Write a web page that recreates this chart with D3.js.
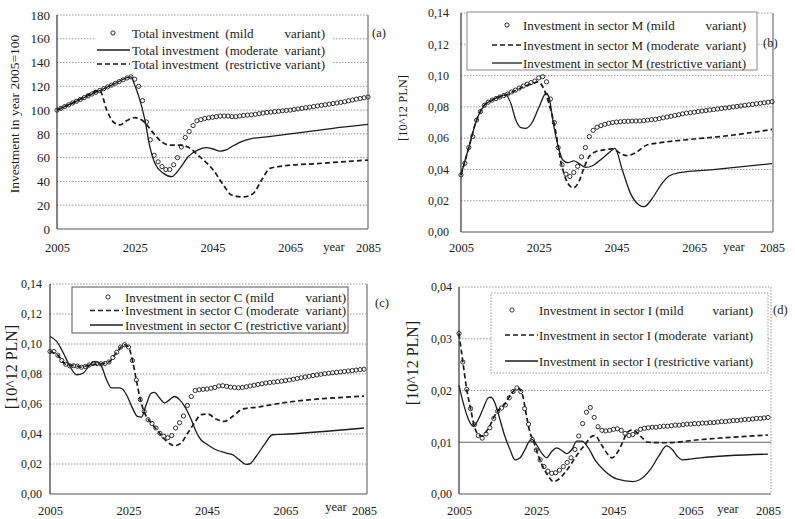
<!DOCTYPE html>
<html><head><meta charset="utf-8">
<script src="https://cdn.jsdelivr.net/npm/d3@7/dist/d3.min.js"></script>
<style>
body{margin:0;background:#fff;}
svg{display:block;font-family:"Liberation Serif","Times New Roman",serif;}
</style></head><body>
<svg id="chart" width="795" height="519"></svg>
<script>
// ---------------- DATA ----------------
const years = d3.range(2005, 2086);
const xTickYears = [2005, 2025, 2045, 2065, 2085];
const yTicksA = [0, 20, 40, 60, 80, 100, 120, 140, 160, 180];
const yTicksBC = [0, 0.02, 0.04, 0.06, 0.08, 0.10, 0.12, 0.14];
const yTicksD = [0, 0.01, 0.02, 0.03, 0.04];

// (a) Total investment, 2005=100
const mildA = [100,101.5,103,104.5,106,107.5,109,110.5,112,113.5,
  115,116.5,118,119.5,121,122.5,124,125.5,127,128,
  126,120,108,90,75,62,56.5,52.5,50,50,
  54,60,69,77,82,87,91,92,93,93.5,
  94,94.5,95,95,95,94.5,94.5,95,95.5,95.8,
  96,96.5,97,97.5,98,98.3,98.7,99,99.4,99.7,
  100,100.5,101,101.5,102,102.5,103,103.5,104,104.5,
  105,105.5,106,106.5,107,107.8,108.5,109.2,109.8,110.4,
  111];
const moderateA = [[2005,100],[2010,107.5],[2016,116.5],[2020,122.5],[2024,128],[2025,121],[2026,112],[2027.6,92],[2028.9,69],[2030.2,55],[2032.3,47],[2034.5,44],[2036.6,51],[2038.8,61],[2041.3,66.5],[2043.5,68.5],[2045,67.5],[2047,65.5],[2048.5,66.5],[2050.3,70],[2052.8,74],[2055,76],[2059,77.5],[2067.5,81],[2076,84.7],[2085,88]];
const restrictiveA = [[2005,100],[2010,107.5],[2016,116.5],[2017.8,100],[2019.5,90],[2021.2,87.5],[2022.9,91],[2025,93.6],[2026.8,91.7],[2028.5,86],[2030.2,79],[2031.9,73.4],[2034,70.6],[2036.6,70.6],[2038.8,68.7],[2041.3,62],[2043,57],[2045.2,49.6],[2047.8,37],[2049.9,28.6],[2052.9,27],[2055.5,30],[2057.6,41],[2059.8,51],[2063.2,53],[2071.8,55],[2085,58]];

// (b) sector M
const mildB = [.0365,.044,.054,.061,.0715,.077,.081,.083,.0843,.0853,
  .0863,.0872,.0882,.0895,.0907,.092,.0933,.0945,.0955,.0965,
  .0985,.0993,.096,.085,.07,.054,.043,.037,.0355,.038,
  .042,.048,.054,.061,.065,.067,.068,.0688,.0695,.07,
  .0703,.0705,.0707,.0708,.0709,.071,.071,.0712,.0715,.0718,
  .072,.0725,.073,.0735,.074,.0745,.075,.0755,.076,.0763,
  .0766,.077,.0773,.0776,.078,.0783,.0786,.079,.0793,.0796,
  .08,.0803,.0806,.081,.0813,.0816,.082,.0823,.0826,.083,
  .0833];
const moderateB = [[2005,.0365],[2007,.054],[2009,.0715],[2011,.081],[2013,.0843],[2016.5,.0876],[2020.8,.0925],[2023.5,.095],[2024.8,.096],[2026,.093],[2027.6,.0823],[2029.3,.065],[2030.6,.046],[2031.9,.0343],[2033.2,.029],[2034,.0283],[2035.3,.032],[2036.6,.0407],[2037.9,.048],[2039.6,.0513],[2041.8,.0525],[2044.2,.0532],[2045.5,.051],[2047.7,.0488],[2050.3,.0513],[2052.8,.0556],[2056,.057],[2062.3,.0588],[2075.1,.062],[2085,.0656]];
const restrictiveB = [[2005,.0365],[2007,.054],[2009,.0715],[2011,.081],[2013,.0843],[2016.5,.0876],[2017.8,.0823],[2019.1,.0716],[2020.4,.0667],[2021.7,.0663],[2023.4,.0705],[2025.1,.0801],[2026.9,.0887],[2027.7,.0855],[2028.6,.0716],[2029.9,.0556],[2031.2,.046],[2032.5,.0443],[2034,.0455],[2035.3,.0439],[2037,.0413],[2038.7,.0422],[2041.3,.047],[2043.9,.0524],[2044.6,.0535],[2046.5,.0396],[2048.6,.0247],[2050.8,.0173],[2052.1,.0162],[2054.2,.0215],[2056.4,.030],[2058.5,.0358],[2061.1,.0379],[2070.5,.040],[2085,.0437]];

// (c) sector C
const mildC = [.095,.095,.0925,.089,.0865,.0855,.0855,.0852,.0845,.085,
  .086,.087,.087,.0868,.087,.088,.091,.0945,.098,.0995,
  .098,.089,.076,.063,.055,.0495,.047,.044,.0405,.0385,
  .0375,.039,.044,.0475,.052,.059,.065,.069,.0695,.0698,
  .07,.0705,.071,.072,.0722,.0718,.0712,.071,.0708,.071,
  .0715,.072,.0725,.073,.0735,.074,.0743,.0746,.0749,.0752,
  .0756,.076,.0765,.077,.0775,.078,.0785,.079,.0794,.0798,
  .0802,.0805,.0808,.0811,.0814,.0817,.082,.0823,.0826,.0829,
  .0832];
const moderateC = [[2005,.095],[2007,.0925],[2009,.0865],[2012,.0852],[2013,.0845],[2015,.086],[2018,.0868],[2020,.088],[2022,.0945],[2024,.0995],[2025,.098],[2026,.089],[2027,.076],[2028,.063],[2029.2,.0535],[2030.8,.0473],[2032.5,.042],[2034,.037],[2035.5,.0335],[2036.7,.0322],[2038.4,.034],[2040.1,.0407],[2041.8,.0473],[2043.5,.0529],[2045.2,.0533],[2047.3,.05],[2049.4,.0484],[2051.5,.0517],[2054.1,.0567],[2058,.058],[2064.2,.0607],[2085,.0652]];
const restrictiveC = [[2005,.105],[2006.7,.1017],[2008.4,.094],[2010.1,.085],[2011.8,.0795],[2013.5,.0807],[2015.2,.0862],[2016.4,.0884],[2017.9,.0862],[2019.4,.0762],[2020.6,.0707],[2022.8,.0707],[2024.5,.0662],[2025.8,.0584],[2027.3,.0517],[2028.3,.0513],[2029.5,.0595],[2030.8,.0673],[2031.6,.0677],[2032.9,.064],[2034.2,.0607],[2035.5,.0629],[2036.7,.065],[2038,.0629],[2039.3,.0584],[2041,.0495],[2042.2,.0417],[2043.5,.036],[2044.8,.0335],[2047.3,.0295],[2049.9,.0273],[2051.5,.0262],[2053.2,.0229],[2054.9,.0198],[2055.8,.02],[2057.5,.025],[2059.6,.0329],[2061.7,.0395],[2064.2,.0398],[2085,.044]];

// (d) sector I
const mildD = [.031,.0255,.0202,.0165,.0134,.0113,.0108,.0116,.0128,.0146,
  .016,.0166,.0172,.0186,.0198,.0205,.0198,.0165,.0135,.0105,
  .0085,.0066,.0053,.0044,.004,.0041,.0046,.0053,.0061,.007,
  .0086,.0112,.0136,.0158,.0167,.0148,.013,.0123,.0122,.0123,
  .0125,.0126,.0123,.0117,.0113,.0115,.012,.0125,.0127,.0128,
  .0129,.0129,.013,.0131,.0131,.0132,.0133,.0133,.0134,.0135,
  .0135,.0136,.0136,.0137,.0137,.0138,.0138,.0139,.014,.014,
  .0141,.0142,.0142,.0143,.0144,.0144,.0145,.0146,.0146,.0147,
  .0148];
const moderateD = [[2005,.031],[2006,.0255],[2007,.0202],[2008,.0165],[2009,.013],[2010,.0115],[2011,.0112],[2012,.012],[2013,.0132],[2014,.0148],[2015,.016],[2016,.0168],[2017,.0175],[2018,.0188],[2019,.0198],[2020.5,.0204],[2021.5,.019],[2022.5,.015],[2023.3,.0121],[2024.3,.0102],[2025.6,.0073],[2026.9,.005],[2028.2,.0034],[2029.4,.0024],[2030.7,.0028],[2032.4,.0041],[2034.2,.006],[2035.9,.0079],[2037.6,.0095],[2039.3,.0111],[2040.2,.0113],[2041.9,.0095],[2043.6,.0076],[2044.6,.007],[2046,.008],[2047.3,.0099],[2048.6,.0119],[2049.9,.0124],[2052.1,.0111],[2053.8,.01],[2058.5,.0099],[2067.3,.0105],[2085,.0114]];
const restrictiveD = [[2005,.021],[2006.1,.0176],[2007.4,.0145],[2008.7,.0131],[2010,.0144],[2011.3,.0166],[2012.6,.0186],[2013.3,.0187],[2014.3,.0176],[2015.6,.0144],[2016.9,.0111],[2018.2,.0086],[2019.5,.0066],[2020.8,.007],[2022.1,.0086],[2023.2,.0102],[2024,.0105],[2025.1,.0095],[2026.4,.0079],[2027.7,.007],[2029,.0082],[2030.3,.0089],[2031.6,.0084],[2032.9,.0078],[2034.2,.0086],[2035.5,.0102],[2036.8,.0102],[2038.5,.0089],[2040.2,.0066],[2042.4,.0047],[2044.5,.0034],[2045.8,.0029],[2050.1,.0024],[2051.9,.0028],[2054.5,.0047],[2056.7,.0073],[2058.7,.0093],[2060.2,.0086],[2061.5,.0073],[2062.8,.0066],[2067.5,.007],[2085,.0077]];

const legendA = ["Total investment  (mild", "Total investment  (moderate  variant)", "Total investment  (restrictive variant)"];
const legendB = ["Investment in sector M (mild", "Investment in sector M (moderate  variant)", "Investment in sector M (restrictive variant)"];
const legendC = ["Investment in sector C (mild", "Investment in sector C (moderate  variant)", "Investment in sector C (restrictive variant)"];
const legendD = ["Investment in sector I (mild", "Investment in sector I (moderate  variant)", "Investment in sector I (restrictive variant)"];
const mildTail = "variant)";
const yTitles = ["Investment in year 2005=100", "[10^12 PLN]", "[10^12 PLN]", "[10^12 PLN]"];
const panelTags = ["(a)", "(b)", "(c)", "(d)"];
const yearWord = "year";

// ---------------- LAYOUT ----------------
const INK = "#1c1c1c";
const svg = d3.select("#chart");
const comma2 = v => d3.format(".2f")(v).replace(".", ",");

const panels = [
  {mild: mildA, moderate: moderateA, restrictive: restrictiveA, yMax: 180, yTicks: yTicksA, fmt: d3.format("d"),
   legend: legendA, title: yTitles[0], tag: panelTags[0], moderateDashed: false,
   L: 57, R: 368, T: 15, B: 229, frameR: 368, rightFrame: "solid",
   tickFs: 13, tickPad: 7, xLabY: 252, yearX: 334, yearY: 251,
   titleX: 19, titleY: 114, titleFs: 13.5,
   tagX: 372, tagY: 37,
   lg: {box: [96, 24, 236, 48], border: null, rows: [33, 50, 64], circX: 113, lineX: [97, 130], textX: 132, endX: 325}},
  {mild: mildB, moderate: moderateB, restrictive: restrictiveB, yMax: 0.14, yTicks: yTicksBC, fmt: comma2,
   legend: legendB, title: yTitles[1], tag: panelTags[1], moderateDashed: true,
   L: 461, R: 772, T: 13, B: 232, frameR: 773, rightFrame: "solid",
   tickFs: 12, tickPad: 12, xLabY: 252, yearX: 734, yearY: 251,
   titleX: 407, titleY: 108, titleFs: 12.5,
   tagX: 763, tagY: 47,
   lg: {box: [467, 12, 290, 58], border: "#8a8a8a", rows: [25, 45, 63], circX: 507, lineX: [492, 522], textX: 523, endX: 746}},
  {mild: mildC, moderate: moderateC, restrictive: restrictiveC, yMax: 0.14, yTicks: yTicksBC, fmt: comma2,
   legend: legendC, title: yTitles[2], tag: panelTags[2], moderateDashed: true,
   L: 50, R: 364, T: 284, B: 494, frameR: 367, rightFrame: "solid",
   tickFs: 12, tickPad: 8, xLabY: 515, yearX: 336, yearY: 511,
   titleX: 17, titleY: 367, titleFs: 16,
   tagX: 375, tagY: 307,
   lg: {box: [72, 287, 276, 46], border: "#555", rows: [297, 310.5, 325], circX: 108, lineX: [90, 123], textX: 125, endX: 346}},
  {mild: mildD, moderate: moderateD, restrictive: restrictiveD, yMax: 0.04, yTicks: yTicksD, fmt: comma2,
   legend: legendD, title: yTitles[3], tag: panelTags[3], moderateDashed: true,
   L: 459, R: 768, T: 287, B: 494, frameR: 771, rightFrame: "dotted",
   tickFs: 12, tickPad: 7, xLabY: 515, yearX: 728, yearY: 513,
   titleX: 418, titleY: 363, titleFs: 16,
   tagX: 773, tagY: 314,
   lg: {box: [491, 293, 277, 80], border: "#9a9a9a", rows: [310, 335, 361], circX: 512, lineX: [505, 538], textX: 539, endX: 753}}
];

panels.forEach((p, pi) => {
  const g = svg.append("g");
  const x = d3.scaleLinear().domain([2005, 2085]).range([p.L, p.R]);
  const y = d3.scaleLinear().domain([0, p.yMax]).range([p.B, p.T]);

  // gridlines
  g.append("g").selectAll("line").data(p.yTicks.filter(v => v > 0)).join("line")
    .attr("x1", p.L).attr("x2", p.frameR).attr("y1", d => y(d)).attr("y2", d => y(d))
    .attr("stroke", (d) => (pi === 3 && Math.abs(d - 0.01) < 1e-9) ? "#666" : "#9a9a9a")
    .attr("stroke-width", 1)
    .attr("stroke-dasharray", (d) => (pi === 3 && Math.abs(d - 0.01) < 1e-9) ? null : "1.5,1.5");

  // frame: left, bottom, right
  g.append("line").attr("x1", p.L).attr("x2", p.L).attr("y1", y(p.yMax)).attr("y2", p.B).attr("stroke", "#333").attr("stroke-width", 1.2);
  g.append("line").attr("x1", p.L).attr("x2", p.frameR).attr("y1", p.B).attr("y2", p.B).attr("stroke", "#555").attr("stroke-width", 1.2);
  g.append("line").attr("x1", p.frameR).attr("x2", p.frameR).attr("y1", y(p.yMax)).attr("y2", p.B)
    .attr("stroke", p.rightFrame === "solid" ? "#555" : "#999").attr("stroke-width", 1)
    .attr("stroke-dasharray", p.rightFrame === "solid" ? null : "1.5,1.5");

  // y axis labels
  const ya = d3.axisLeft(y).tickValues(p.yTicks).tickFormat(p.fmt).tickSize(0).tickPadding(p.tickPad);
  const yg = g.append("g").attr("transform", `translate(${p.L},0)`).call(ya);
  yg.select(".domain").remove();
  yg.selectAll("text").attr("font-size", p.tickFs).attr("font-family", "Liberation Serif, serif").attr("fill", INK);

  // x axis labels
  const xa = d3.axisBottom(x).tickValues(xTickYears).tickFormat(d3.format("d")).tickSize(0).tickPadding(0);
  const xg = g.append("g").attr("transform", `translate(0,${p.B})`).call(xa);
  xg.select(".domain").remove();
  xg.selectAll("text").attr("font-size", 12.5).attr("font-family", "Liberation Serif, serif").attr("fill", INK)
    .attr("dy", null).attr("y", p.xLabY - p.B);
  g.append("text").attr("x", p.yearX).attr("y", p.yearY).attr("text-anchor", "middle")
    .attr("font-size", 12.5).attr("fill", INK).text(yearWord);

  // y title
  g.append("text").attr("transform", `translate(${p.titleX},${p.titleY}) rotate(-90)`)
    .attr("text-anchor", "middle").attr("font-size", p.titleFs).attr("fill", INK).text(p.title);

  // panel tag
  g.append("text").attr("x", p.tagX).attr("y", p.tagY).attr("font-size", 12.5).attr("fill", INK).text(p.tag);

  // legend box
  const lg = p.lg;
  g.append("rect").attr("x", lg.box[0]).attr("y", lg.box[1]).attr("width", lg.box[2]).attr("height", lg.box[3])
    .attr("fill", "#fff").attr("stroke", lg.border || "none").attr("stroke-width", 1)
    .attr("stroke-dasharray", pi === 3 ? "1.5,1.5" : null);

  // series lines
  const line = d3.line().x(d => x(d[0])).y(d => y(d[1])).curve(d3.curveMonotoneX);
  const solidSeries = p.moderateDashed ? p.restrictive : p.moderate;
  const dashedSeries = p.moderateDashed ? p.moderate : p.restrictive;
  g.append("path").datum(solidSeries).attr("d", line).attr("fill", "none").attr("stroke", INK).attr("stroke-width", 1.3);
  g.append("path").datum(dashedSeries).attr("d", line).attr("fill", "none").attr("stroke", INK)
    .attr("stroke-width", 1.7).attr("stroke-dasharray", "5,3");

  // mild circles
  g.append("g").selectAll("circle").data(years.map((yr, i) => [yr, p.mild[i]])).join("circle")
    .attr("cx", d => x(d[0])).attr("cy", d => y(d[1])).attr("r", 2.1)
    .attr("fill", "none").attr("stroke", INK).attr("stroke-width", 0.9);

  // legend entries
  const fs = 13;
  g.append("circle").attr("cx", lg.circX).attr("cy", lg.rows[0]).attr("r", 2.1)
    .attr("fill", "none").attr("stroke", INK).attr("stroke-width", 0.9);
  g.append("text").attr("x", lg.textX).attr("y", lg.rows[0] + 4.5).attr("font-size", fs).attr("fill", INK)
    .style("white-space", "pre").text(p.legend[0]);
  g.append("text").attr("x", lg.endX).attr("y", lg.rows[0] + 4.5).attr("font-size", fs).attr("fill", INK)
    .attr("text-anchor", "end").text(mildTail);
  [1, 2].forEach(r => {
    const dashed = (r === 1) === p.moderateDashed;
    g.append("line").attr("x1", lg.lineX[0]).attr("x2", lg.lineX[1]).attr("y1", lg.rows[r]).attr("y2", lg.rows[r])
      .attr("stroke", INK).attr("stroke-width", dashed ? 1.7 : 1.3).attr("stroke-dasharray", dashed ? "5,3" : null);
    g.append("text").attr("x", lg.textX).attr("y", lg.rows[r] + 4.5).attr("font-size", fs).attr("fill", INK)
      .style("white-space", "pre").attr("textLength", lg.endX - lg.textX).attr("lengthAdjust", "spacingAndGlyphs")
      .text(p.legend[r]);
  });
});
</script>
</body></html>
